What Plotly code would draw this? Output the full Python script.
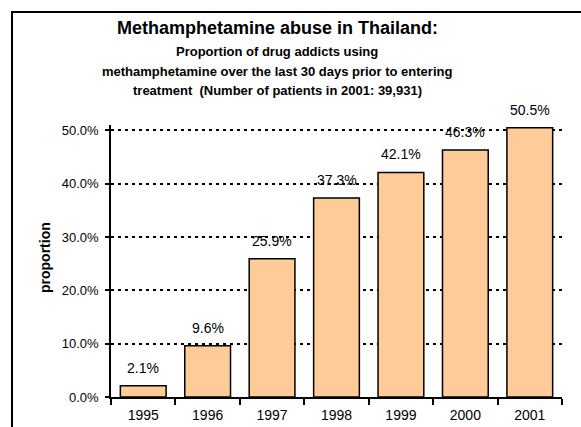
import plotly.graph_objects as go

# data
years = ["1995", "1996", "1997", "1998", "1999", "2000", "2001"]
proportion = [2.1, 9.6, 25.9, 37.3, 42.1, 46.3, 50.5]
y_ticks = [0, 10, 20, 30, 40, 50]

title = "Methamphetamine abuse in Thailand:"
subtitle = ["Proportion of drug addicts using",
            "methamphetamine over the last 30 days prior to entering",
            "treatment  (Number of patients in 2001: 39,931)"]

W, H = 581, 427
ML, MT = 111, 125
MR = W - 562
MB = H - 397
PW, PH = W - ML - MR, H - MT - MB

# screen pixel -> paper coords
def px(x):
    return (x - ML) / PW

def py(y):
    return (H - MB - y) / PH

font = "Liberation Sans, Arial, sans-serif"

fig = go.Figure()
fig.add_trace(go.Bar(
    x=years, y=proportion,
    marker=dict(color="#FFCC99", line=dict(color="black", width=1.5)),
    width=0.71,
))

# data labels above the bars (x given as category index)
for i, v in enumerate(proportion):
    fig.add_annotation(x=i, y=v, text=f"{v:.1f}%", showarrow=False,
                       yanchor="bottom", yshift=8,
                       font=dict(family=font, size=14, color="black"))

# title block
fig.add_annotation(xref="paper", yref="paper", x=px(277), y=py(28), text="<b>" + title + "</b>",
                   showarrow=False, xanchor="center", yanchor="middle",
                   font=dict(family=font, size=18, color="black"))
for line, ypix in zip(subtitle, [51, 71, 90]):
    fig.add_annotation(xref="paper", yref="paper", x=px(277), y=py(ypix), text="<b>" + line + "</b>",
                       showarrow=False, xanchor="center", yanchor="middle",
                       font=dict(family=font, size=13, color="black"))

# y axis title
fig.add_annotation(xref="paper", yref="paper", x=px(45), y=py(258), text="<b>proportion</b>",
                   showarrow=False, textangle=-90, xanchor="center", yanchor="middle",
                   font=dict(family=font, size=14, color="black"))

# outer frame: only its left and top edges fall inside the picture
frame = dict(color="black", width=2)
fig.add_shape(type="line", xref="paper", yref="paper",
              x0=px(12), y0=py(12), x1=px(12), y1=py(440), line=frame, layer="above")
fig.add_shape(type="line", xref="paper", yref="paper",
              x0=px(11), y0=py(12), x1=px(600), y1=py(12), line=frame, layer="above")

fig.update_layout(
    width=W, height=H,
    margin=dict(l=ML, r=MR, t=MT, b=MB, autoexpand=False),
    paper_bgcolor="white", plot_bgcolor="white",
    showlegend=False,
    bargap=0.29,
    font=dict(family=font, color="black"),
    xaxis=dict(
        type="category", range=[-0.5, len(years) - 0.5],
        showline=True, linecolor="black", linewidth=1.5,
        ticks="outside", ticklen=6, tickcolor="black", tickwidth=1.5,
        tickson="boundaries", showgrid=False, ticklabelstandoff=4,
        tickfont=dict(family=font, size=14, color="black"),
    ),
    yaxis=dict(
        range=[0, 51], tickvals=y_ticks, ticktext=[f"{t:.1f}%" for t in y_ticks],
        showline=True, linecolor="black", linewidth=1.5,
        ticks="outside", ticklen=4, tickcolor="black", tickwidth=1.5,
        ticklabelstandoff=4,
        showgrid=True, gridcolor="black", gridwidth=2, griddash="3px,4px",
        zeroline=False,
        tickfont=dict(family=font, size=13, color="black"),
    ),
)

# drop the default page margin so the figure sits flush in the window
page_js = ("document.body.style.margin='0';"
           "document.body.style.overflow='hidden';"
           "document.documentElement.style.overflow='hidden';")
fig.write_html("out.html", config={"displayModeBar": False}, post_script=page_js)
